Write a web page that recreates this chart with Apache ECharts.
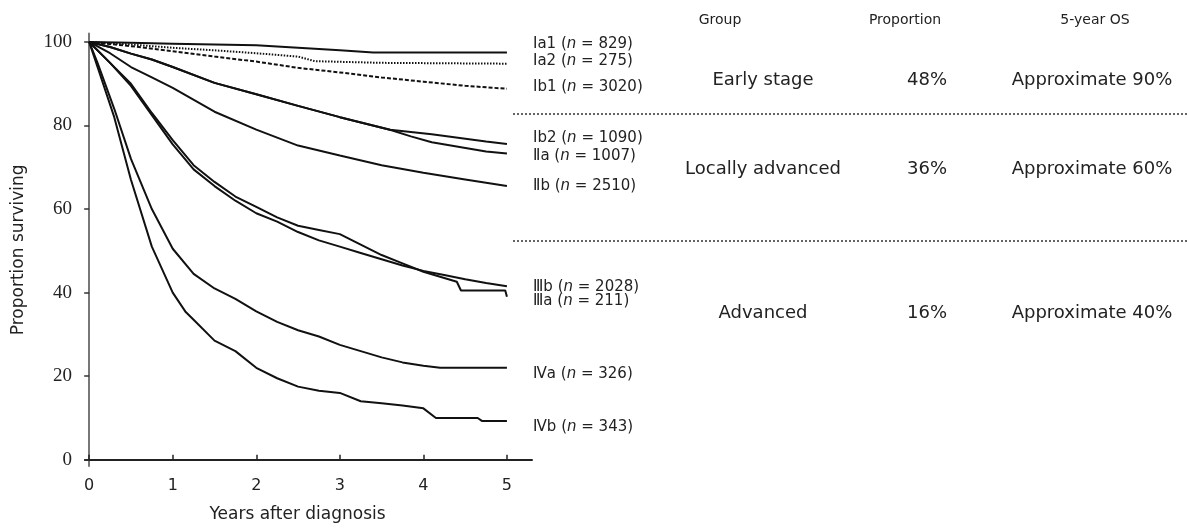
<!DOCTYPE html>
<html>
<head>
<meta charset="utf-8">
<title>Survival by stage</title>
<script src="https://cdn.jsdelivr.net/npm/echarts@6/dist/echarts.min.js"></script>
<style>
  html, body { margin: 0; padding: 0; background: #fff; }
  #main { width: 1187px; height: 528px; }
</style>
</head>
<body>
<div id="main"></div>
<script>
// ==================== 数据 ====================
// 每条曲线: [years, proportion surviving]
const ia1 = [[0,100],[0.5,99.8],[1,99.6],[1.5,99.4],[2,99.2],[2.5,98.6],[3,98],[3.4,97.5],[5,97.5]];
const ia2 = [[0,100],[0.5,99.4],[1,98.6],[1.5,98],[2,97.3],[2.5,96.5],[2.7,95.4],[3.5,95],[5,94.8]];
const ib1 = [[0,100],[0.5,99],[1,97.8],[1.5,96.5],[2,95.3],[2.5,93.8],[3,92.7],[3.5,91.5],[4,90.5],[4.5,89.5],[5,88.8]];
const ib2 = [[0,100],[0.25,98.8],[0.5,97.2],[0.75,95.8],[1,94],[1.5,90.2],[2,87.5],[2.5,84.7],[3,82],[3.6,79],[4.1,77.9],[4.75,76.2],[5,75.6]];
const iia = [[0,100],[0.25,98.8],[0.5,97.2],[0.75,95.8],[1,94],[1.5,90.2],[2,87.5],[2.5,84.7],[3,82],[3.6,79],[3.85,77.4],[4.1,76],[4.75,73.8],[5,73.3]];
const iib = [[0,100],[0.25,97.3],[0.5,94],[0.75,91.5],[1,89],[1.5,83.3],[2,79],[2.5,75.2],[3,72.8],[3.5,70.5],[4,68.7],[4.5,67.1],[5,65.5]];
const iiia = [[0,100],[0.25,95],[0.5,90],[0.75,83],[1,76.5],[1.25,70.5],[1.5,66.5],[1.75,63],[2,60.5],[2.25,58],[2.5,56],[2.75,55],[3,54],[3.25,51.5],[3.5,49],[3.75,47],[4,45],[4.25,43.5],[4.4,42.6],[4.45,40.5],[4.98,40.5],[5,39]];
const iiib = [[0,100],[0.25,95],[0.5,89.5],[0.75,82.5],[1,75.5],[1.25,69.5],[1.5,65.5],[1.75,62],[2,59],[2.25,57],[2.5,54.5],[2.75,52.5],[3,51],[3.25,49.5],[3.5,48],[3.75,46.5],[4,45.2],[4.25,44.2],[4.5,43.2],[4.75,42.3],[5,41.5]];
const iva = [[0,100],[0.1,95],[0.3,84],[0.5,72],[0.75,60],[1,50.5],[1.25,44.5],[1.5,41],[1.75,38.5],[2,35.5],[2.25,33],[2.5,31],[2.75,29.5],[3,27.5],[3.25,26],[3.5,24.5],[3.75,23.3],[4,22.5],[4.2,22],[5,22]];
const ivb = [[0,100],[0.1,94],[0.3,82],[0.5,67],[0.75,51],[1,40],[1.15,35.5],[1.25,33.5],[1.5,28.5],[1.75,26],[2,22],[2.25,19.5],[2.5,17.5],[2.75,16.5],[3,16],[3.25,14],[3.5,13.5],[3.75,13],[4,12.3],[4.15,10],[4.65,10],[4.7,9.3],[5,9.3]];

// 曲线名称 (罗马数字 + 亚组) 与样本量
const stageNames = ['Ⅰa1', 'Ⅰa2', 'Ⅰb1', 'Ⅰb2', 'Ⅱa', 'Ⅱb', 'Ⅲb', 'Ⅲa', 'Ⅳa', 'Ⅳb'];
const stageN = [829, 275, 3020, 1090, 1007, 2510, 2028, 211, 326, 343];

// 坐标轴刻度
const xTicks = [0, 1, 2, 3, 4, 5];
const yTicks = [0, 20, 40, 60, 80, 100];

// 右侧表格
const tableHeaders = ['Group', 'Proportion', '5-year OS'];
const groupNames = ['Early stage', 'Locally advanced', 'Advanced'];
const groupProportion = ['48%', '36%', '16%'];
const groupOS = ['Approximate 90%', 'Approximate 60%', 'Approximate 40%'];

// ==================== 样式 ====================
const INK = '#111';
const FONT = '"DejaVu Sans", Verdana, sans-serif';

const curves = [ia1, ia2, ib1, ib2, iia, iib, iiib, iiia, iva, ivb];
const lineTypes = ['solid', [1.5, 1.5], [4, 2], 'solid', 'solid', 'solid', 'solid', 'solid', 'solid', 'solid'];
// 曲线标签的纵向位置 (像素)
const labelY = [46, 63, 89, 140, 158, 188, 289, 303, 376, 429];
const rowY = [80, 169, 313];
const colX = [763, 927, 1092];

const series = curves.map((data, i) => ({
  name: stageNames[i],
  type: 'line',
  data: data,
  symbol: 'none',
  animation: false,
  lineStyle: { color: INK, width: 2, type: lineTypes[i] }
}));

const graphics = [];

// 曲线标签
stageNames.forEach((name, i) => {
  graphics.push({
    type: 'text',
    left: 533,
    top: labelY[i] - 9,
    style: {
      text: `${name} ({i|n} = ${stageN[i]})`,
      font: `15px ${FONT}`,
      fill: '#222',
      rich: { i: { fontStyle: 'italic', font: `italic 15px ${FONT}`, fill: '#222' } }
    }
  });
});

// 表头
tableHeaders.forEach((h, j) => {
  graphics.push({
    type: 'text',
    x: [720, 905, 1095][j],
    y: 20,
    style: { text: h, font: `14px ${FONT}`, fill: '#222', align: 'center', verticalAlign: 'middle' }
  });
});

// 表格内容
groupNames.forEach((g, r) => {
  [g, groupProportion[r], groupOS[r]].forEach((t, c) => {
    graphics.push({
      type: 'text',
      x: colX[c],
      y: rowY[r],
      style: { text: t, font: `18px ${FONT}`, fill: '#222', align: 'center', verticalAlign: 'middle' }
    });
  });
});

// 分隔虚线
[114, 241].forEach(y => {
  graphics.push({
    type: 'line',
    shape: { x1: 513, y1: y, x2: 1187, y2: y },
    style: { stroke: '#333', lineWidth: 1.5, lineDash: [2, 2] }
  });
});

const chart = echarts.init(document.getElementById('main'));
chart.setOption({
  backgroundColor: '#fff',
  animation: false,
  grid: { left: 85, top: 33.6, width: 447, height: 434.7 },
  xAxis: {
    type: 'value',
    min: -0.05,
    max: 5.3,
    name: 'Years after diagnosis',
    nameLocation: 'middle',
    nameGap: 40,
    nameTextStyle: { fontFamily: FONT, fontSize: 17, color: '#222', padding: [0, 22, 0, 0] },
    axisLine: { show: true, lineStyle: { color: '#222', width: 2 } },
    axisTick: { show: true, inside: true, length: 5, customValues: xTicks, lineStyle: { color: '#222', width: 1.5 } },
    axisLabel: { customValues: xTicks, fontFamily: FONT, fontSize: 16, color: '#222', margin: 12 },
    splitLine: { show: false }
  },
  yAxis: {
    type: 'value',
    min: -1.5,
    max: 102,
    name: 'Proportion surviving',
    nameLocation: 'middle',
    nameGap: 58,
    nameRotate: 90,
    nameTextStyle: { fontFamily: FONT, fontSize: 17, color: '#222' },
    axisLine: { show: true, lineStyle: { color: '#777', width: 2 } },
    axisTick: { show: true, length: 5, customValues: yTicks, lineStyle: { color: '#333', width: 1.5 } },
    axisLabel: { customValues: yTicks, fontFamily: '"Liberation Serif", serif', fontSize: 19, color: '#222', margin: 13 },
    splitLine: { show: false }
  },
  series: series,
  graphic: graphics
});
</script>
</body>
</html>
